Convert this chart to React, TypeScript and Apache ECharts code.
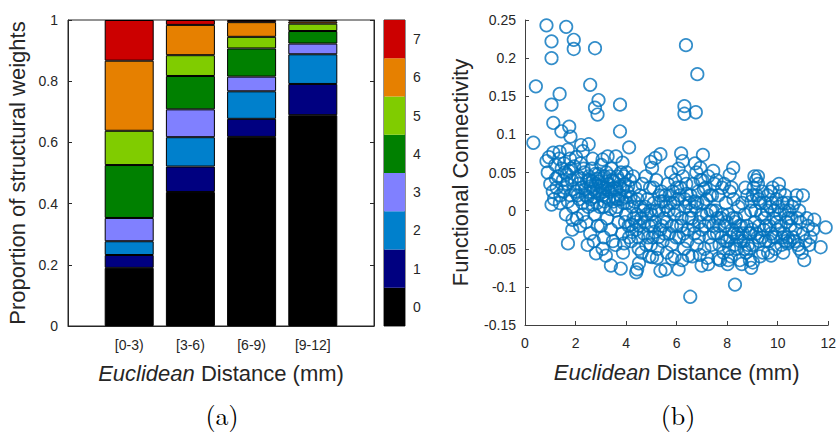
import React, { useEffect, useRef } from "react";
import * as echarts from "echarts";

// ---- Panel (a): stacked proportions per distance bin ----
const bins = ["[0-3)", "[3-6)", "[6-9)", "[9-12]"];
const levels = ["0", "1", "2", "3", "4", "5", "6", "7"];
const levelColors = ["#000000", "#000080", "#0080cc", "#8080ff", "#008000", "#80cc00", "#e68000", "#cc0000"];
const w0_3 = [0.19, 0.042, 0.045, 0.076, 0.173, 0.112, 0.229, 0.133];
const w3_6 = [0.438, 0.083, 0.096, 0.091, 0.109, 0.068, 0.099, 0.016];
const w6_9 = [0.618, 0.059, 0.09, 0.048, 0.092, 0.038, 0.048, 0.007];
const w9_12 = [0.689, 0.102, 0.097, 0.035, 0.041, 0.024, 0.007, 0.005];

// ---- Panel (b): functional connectivity vs distance ----
const outliers: number[][] = [
  [0.85, 0.243], [1.63, 0.241], [1.05, 0.222], [1.05, 0.2], [1.93, 0.224], [1.93, 0.212], [2.77, 0.213],
  [6.37, 0.217], [6.82, 0.179], [0.43, 0.163], [2.58, 0.165], [1.37, 0.153], [1.05, 0.139], [2.91, 0.145],
  [2.77, 0.135], [2.87, 0.126], [3.76, 0.139], [6.31, 0.137], [6.31, 0.127], [6.76, 0.129], [1.12, 0.115],
  [1.75, 0.11], [1.44, 0.104], [1.8, 0.097], [3.76, 0.104], [0.33, 0.089], [4.12, 0.083], [2.22, 0.086],
  [2.52, 0.087], [2.29, 0.078], [0.85, 0.065], [1.12, 0.076], [1.37, 0.077], [1.7, 0.08], [6.18, 0.075],
  [7.04, 0.073], [6.24, 0.065], [6.73, 0.062], [6.94, 0.056], [7.45, 0.052], [8.24, 0.056], [5.36, 0.074],
  [5.16, 0.069], [4.97, 0.064], [5.03, 0.056], [3.27, 0.071], [3.6, 0.071], [3.07, 0.067], [3.86, 0.063],
  [2.68, 0.068], [9.22, 0.045], [8.1, 0.047],
  [1.87, -0.025], [1.7, -0.043], [2.48, -0.045], [3.07, -0.05], [3.4, -0.072], [3.79, -0.076], [4.44, -0.077],
  [4.4, -0.081], [5.36, -0.079], [5.56, -0.077], [6.08, -0.077], [6.54, -0.113], [8.31, -0.097], [11.05, -0.065],
  [11.9, -0.022], [11.7, -0.048], [10.85, -0.05], [11.0, 0.02], [11.45, -0.012], [8.95, -0.075], [9.02, -0.068],
  [6.99, -0.072], [7.25, -0.07], [7.65, -0.063], [8.04, -0.065], [9.74, -0.059], [10.39, -0.043], [5.03, -0.061],
  [4.51, -0.069], [5.82, -0.063], [6.47, -0.059], [2.81, -0.056], [3.2, -0.059], [3.92, -0.043],
];
const core: number[][] = [
  [0.9, 0.05], [1.0, 0.035], [1.1, 0.025], [1.2, 0.06], [1.3, 0.045], [1.4, 0.02], [1.45, 0.055], [1.15, 0.015],
  [0.95, 0.07], [1.35, 0.068], [1.25, 0.03], [1.5, 0.04],
  [1.55, 0.062], [1.6, 0.03], [1.65, 0.048], [1.7, 0.012], [1.75, 0.052], [1.8, 0.02], [1.85, 0.04], [1.9, 0.005],
  [1.95, 0.058], [2.0, 0.025], [2.05, -0.01], [2.1, 0.045], [2.15, 0.015], [2.2, 0.062], [2.25, 0.03], [2.3, -0.005],
  [2.35, 0.05], [2.4, 0.02], [2.45, 0.038], [2.5, 0.005], [1.62, -0.005], [1.78, 0.068], [2.02, 0.07], [2.18, -0.02],
  [2.28, 0.01], [2.42, -0.015], [1.88, -0.012], [2.12, 0.035],
  [2.55, 0.04], [2.6, 0.015], [2.65, 0.055], [2.7, 0.028], [2.75, -0.005], [2.8, 0.035], [2.85, 0.01], [2.9, 0.048],
  [2.95, 0.022], [3.0, -0.02], [3.05, 0.03], [3.1, 0.005], [3.15, 0.045], [3.2, 0.018], [3.25, -0.01], [3.3, 0.035],
  [3.35, 0.025], [3.4, -0.025], [3.45, 0.04], [3.5, 0.012], [2.58, -0.03], [2.72, -0.04], [2.88, -0.02], [3.02, 0.06],
  [3.12, -0.035], [3.22, 0.05], [3.38, 0.002], [3.48, -0.04], [2.62, 0.032], [2.92, 0.038], [3.08, 0.02], [3.28, 0.028],
  [2.78, 0.048], [3.18, 0.03], [3.42, 0.055], [2.68, 0.008],
  [3.55, 0.03], [3.6, 0.0], [3.65, 0.045], [3.7, -0.015], [3.75, 0.02], [3.8, 0.05], [3.85, -0.03], [3.9, 0.01],
  [3.95, 0.035], [4.0, -0.005], [4.05, 0.025], [4.1, -0.02], [4.15, 0.04], [4.2, -0.04], [4.25, 0.005], [4.3, -0.01],
  [4.35, 0.03], [4.4, -0.025], [4.45, 0.015], [4.5, -0.05], [3.58, -0.045], [3.72, 0.04], [3.88, -0.055], [4.02, 0.05],
  [4.12, -0.035], [4.28, 0.045], [4.42, -0.005], [3.68, 0.015], [3.98, 0.018], [4.22, -0.018],
  [4.55, 0.02], [4.6, -0.01], [4.65, 0.035], [4.7, -0.03], [4.75, 0.005], [4.8, -0.045], [4.85, 0.015], [4.9, -0.02],
  [4.95, 0.03], [5.0, -0.005], [5.05, -0.035], [5.1, 0.01], [5.15, -0.015], [5.2, 0.04], [5.25, -0.05], [5.3, 0.0],
  [5.35, -0.025], [5.4, 0.025], [5.45, -0.04], [5.5, -0.01], [4.62, -0.055], [4.78, 0.045], [4.92, -0.06], [5.08, 0.03],
  [5.22, -0.062], [5.38, 0.012], [4.68, 0.0], [5.12, -0.028],
  [5.55, 0.02], [5.6, -0.015], [5.65, 0.035], [5.7, -0.03], [5.75, 0.01], [5.8, -0.045], [5.85, 0.025], [5.9, -0.005],
  [5.95, 0.04], [6.0, -0.02], [6.05, 0.015], [6.1, -0.035], [6.15, 0.03], [6.2, -0.01], [6.25, 0.045], [6.3, -0.05],
  [6.35, 0.005], [6.4, 0.022], [6.45, -0.025], [6.5, 0.01], [5.62, -0.055], [5.78, 0.05], [5.92, -0.06], [6.08, 0.055],
  [6.22, -0.065], [6.38, 0.035], [5.68, 0.0], [6.02, 0.03], [6.28, -0.03],
  [6.55, 0.02], [6.6, -0.01], [6.65, 0.035], [6.7, -0.03], [6.75, 0.005], [6.8, -0.045], [6.85, 0.025], [6.9, -0.015],
  [6.95, 0.04], [7.0, -0.025], [7.05, 0.01], [7.1, -0.05], [7.15, 0.03], [7.2, -0.005], [7.25, 0.045], [7.3, -0.035],
  [7.35, 0.0], [7.4, 0.02], [7.45, -0.02], [7.5, 0.035], [6.62, -0.06], [6.78, 0.05], [6.92, -0.058], [7.08, 0.028],
  [7.22, -0.062], [7.38, -0.045], [6.72, 0.012], [7.02, 0.04],
  [7.55, 0.0], [7.6, -0.03], [7.65, 0.02], [7.7, -0.045], [7.75, -0.01], [7.8, 0.03], [7.85, -0.055], [7.9, -0.02],
  [7.95, 0.01], [8.0, -0.04], [8.05, -0.005], [8.1, 0.025], [8.15, -0.06], [8.2, -0.025], [8.25, 0.015], [8.3, -0.045],
  [8.35, -0.01], [8.4, -0.035], [8.45, 0.005], [8.5, -0.065], [7.58, 0.04], [7.72, -0.065], [7.88, 0.035], [8.02, -0.07],
  [8.18, 0.03], [8.32, -0.015], [7.68, -0.02], [8.08, -0.05], [8.42, -0.03],
  [8.55, -0.02], [8.6, 0.01], [8.65, -0.04], [8.7, -0.005], [8.75, -0.055], [8.8, 0.02], [8.85, -0.03], [8.9, -0.065],
  [8.95, 0.0], [9.0, -0.045], [9.05, 0.03], [9.1, -0.015], [9.15, 0.04], [9.2, -0.035], [9.25, 0.015], [9.3, -0.06],
  [9.35, -0.005], [9.4, 0.025], [9.45, -0.025], [9.5, 0.01], [8.58, -0.07], [8.72, 0.03], [8.88, -0.05], [9.08, 0.045],
  [9.22, 0.035], [9.18, 0.02], [8.98, -0.025], [9.28, -0.04], [9.42, -0.055],
  [9.55, -0.02], [9.6, 0.02], [9.65, -0.04], [9.7, 0.005], [9.75, -0.03], [9.8, 0.03], [9.85, -0.01], [9.9, -0.05],
  [9.95, 0.015], [10.0, -0.025], [10.05, 0.035], [10.1, -0.005], [10.15, -0.045], [10.2, 0.01], [10.25, -0.03],
  [10.3, 0.02], [10.35, -0.015], [10.4, -0.035], [10.45, 0.0], [10.5, -0.02], [9.62, -0.055], [9.78, 0.01],
  [9.92, -0.035], [10.08, 0.025], [10.22, -0.055], [10.38, 0.01],
  [10.55, -0.01], [10.6, -0.035], [10.65, 0.01], [10.7, -0.025], [10.8, -0.045], [10.85, 0.0], [10.9, -0.015],
  [11.0, -0.03], [11.1, -0.04], [11.2, -0.02], [11.3, -0.035], [11.4, -0.025], [10.75, 0.02], [10.95, -0.055],
  [11.15, -0.01], [11.25, -0.045],
];
const coreExtra: number[][] = [
  [1.05, 0.008], [1.22, 0.042], [1.38, 0.01], [1.52, 0.025], [1.68, 0.035], [1.82, 0.055], [1.92, 0.028], [1.58, 0.05],
  [2.08, 0.02], [2.22, 0.042], [2.32, 0.055], [2.38, 0.028], [2.48, 0.018], [2.52, 0.045], [2.58, 0.025], [2.66, 0.038],
  [2.74, 0.018], [2.82, 0.025], [2.86, 0.042], [2.96, 0.005], [2.98, 0.032],
  [3.04, 0.042], [3.1, 0.025], [3.14, 0.012], [3.24, 0.038], [3.32, 0.015], [3.36, 0.045], [3.44, 0.028], [3.52, 0.038],
  [3.56, 0.018], [3.62, 0.028], [3.66, 0.005], [3.76, 0.032], [3.82, 0.015], [3.86, 0.028], [3.92, 0.045], [3.96, -0.015],
  [4.04, 0.01], [4.08, 0.032], [4.18, 0.018], [4.24, -0.028], [4.32, 0.012], [4.38, -0.015], [4.48, -0.035], [4.52, -0.02],
  [4.58, 0.005], [4.72, -0.015], [4.82, -0.005], [4.88, -0.035], [4.96, 0.0], [4.98, -0.045],
  [5.02, -0.02], [5.18, 0.0], [5.28, -0.035], [5.32, 0.02], [5.42, -0.02], [5.48, 0.012], [5.52, -0.03], [5.58, 0.005],
  [5.72, 0.02], [5.82, -0.02], [5.88, 0.01], [5.98, -0.035],
  [6.04, 0.0], [6.12, 0.02], [6.18, -0.02], [6.32, 0.015], [6.42, -0.04], [6.48, -0.01], [6.58, 0.0], [6.68, -0.02],
  [6.82, 0.01], [6.88, -0.035], [6.98, -0.005],
  [7.12, -0.02], [7.18, 0.015], [7.28, -0.015], [7.32, 0.02], [7.42, 0.0], [7.48, -0.03], [7.62, -0.01], [7.78, -0.035],
  [7.82, -0.005], [7.92, -0.04], [7.98, -0.015],
  [8.12, -0.035], [8.22, -0.01], [8.28, -0.03], [8.38, -0.05], [8.48, -0.02], [8.52, -0.04], [8.62, -0.03], [8.68, -0.05],
  [8.78, -0.02], [8.82, -0.045], [8.92, -0.03], [8.96, 0.012],
  [9.02, 0.02], [9.12, 0.0], [9.16, -0.03], [9.26, -0.02], [9.32, 0.01], [9.38, -0.035], [9.48, -0.01], [9.52, -0.04],
  [9.58, 0.0], [9.68, -0.02], [9.72, 0.025], [9.82, -0.035], [9.88, 0.0], [9.96, -0.015],
  [10.02, 0.005], [10.12, -0.02], [10.18, -0.035], [10.28, 0.0], [10.32, -0.04], [10.42, -0.01], [10.48, -0.04],
  [10.58, 0.005], [10.68, -0.04], [10.78, -0.01],
];

const FONT = "'Liberation Sans', Arial, Helvetica, sans-serif";
const TXT = "#262626";
const SERIF = "26px 'Latin Modern Roman', 'Liberation Serif', 'DejaVu Serif', serif";

export default function App() {
  const ref = useRef<HTMLDivElement>(null);
  useEffect(() => {
    document.body.style.margin = "0";
    if (!ref.current) return;
    const chart = echarts.init(ref.current, null, { renderer: "svg" });
    const binRows = [w0_3, w3_6, w6_9, w9_12];
    const catData = ["", ...bins, ""];
    const barSeries = levels.map((lv, li) => ({
      type: "bar",
      name: lv,
      stack: "w",
      xAxisIndex: 0,
      yAxisIndex: 0,
      barWidth: 49,
      data: [null, ...binRows.map((r) => r[li]), null],
      itemStyle: { color: levelColors[li], borderColor: "#000", borderWidth: 1 },
      silent: true,
    }));
    const titleRich = {
      i: { fontStyle: "italic", fontSize: 22, fontFamily: FONT, color: TXT },
    };
    chart.setOption({
      animation: false,
      textStyle: { fontFamily: FONT },
      grid: [
        { left: 68, top: 20, width: 306, height: 306, show: true, borderColor: "#262626", borderWidth: 1, backgroundColor: "transparent" },
        { left: 384, top: 20, width: 21, height: 306, show: true, borderColor: "#262626", borderWidth: 1, backgroundColor: "transparent" },
        { left: 525, top: 20, width: 306, height: 305 },
      ],
      xAxis: [
        {
          type: "category", gridIndex: 0, data: catData, boundaryGap: false,
          axisLine: { lineStyle: { color: "#262626" } }, axisTick: { show: false },
          axisLabel: { color: TXT, fontSize: 14, fontFamily: FONT, margin: 12, interval: 0 },
          name: "{i|Euclidean} Distance (mm)", nameLocation: "middle", nameGap: 36,
          nameTextStyle: { color: TXT, fontSize: 22, fontFamily: FONT, rich: titleRich },
        },
        { type: "value", gridIndex: 1, min: 0, max: 1, show: false },
        {
          type: "value", gridIndex: 2, min: 0, max: 12, interval: 2,
          axisLine: { onZero: false, lineStyle: { color: "#404040" } },
          axisTick: { inside: true, length: 4, lineStyle: { color: "#404040" } },
          splitLine: { show: false },
          axisLabel: { color: TXT, fontSize: 14, fontFamily: FONT, margin: 11 },
          name: "{i|Euclidean} Distance (mm)", nameLocation: "middle", nameGap: 36,
          nameTextStyle: { color: TXT, fontSize: 22, fontFamily: FONT, rich: titleRich },
        },
      ],
      yAxis: [
        {
          type: "value", gridIndex: 0, min: 0, max: 1, interval: 0.2,
          axisLine: { show: true, lineStyle: { color: "#262626" } },
          axisTick: { show: true, inside: true, length: 4, lineStyle: { color: "#262626" } },
          splitLine: { show: false },
          axisLabel: { color: TXT, fontSize: 14, fontFamily: FONT, margin: 10, formatter: (v: number) => String(+v.toFixed(1)) },
          name: "Proportion of structural weights", nameLocation: "middle", nameGap: 40,
          nameTextStyle: { color: TXT, fontSize: 22, fontFamily: FONT },
        },
        {
          type: "value", gridIndex: 0, min: 0, max: 1, interval: 0.2, position: "right",
          axisLine: { show: true, lineStyle: { color: "#262626" } },
          axisTick: { show: true, inside: true, length: 4, lineStyle: { color: "#262626" } },
          splitLine: { show: false }, axisLabel: { show: false },
        },
        {
          type: "category", gridIndex: 1, data: levels, position: "right",
          axisLine: { show: false }, axisTick: { show: false },
          axisLabel: { color: TXT, fontSize: 14, fontFamily: FONT, margin: 8 },
        },
        {
          type: "value", gridIndex: 2, min: -0.15, max: 0.25, interval: 0.05,
          axisLine: { show: true, onZero: false, lineStyle: { color: "#404040" } },
          axisTick: { show: true, inside: true, length: 4, lineStyle: { color: "#404040" } },
          splitLine: { show: false },
          axisLabel: { color: TXT, fontSize: 14, fontFamily: FONT, margin: 9, formatter: (v: number) => String(+v.toFixed(2)) },
          name: "Functional Connectivity", nameLocation: "middle", nameGap: 54,
          nameTextStyle: { color: TXT, fontSize: 22, fontFamily: FONT },
        },
      ],
      series: [
        ...barSeries,
        {
          type: "bar", xAxisIndex: 1, yAxisIndex: 2, barWidth: "100%", silent: true,
          data: levels.map((_, i) => ({ value: 1, itemStyle: { color: levelColors[i] } })),
        },
        {
          type: "scatter", xAxisIndex: 2, yAxisIndex: 3, symbol: "circle", symbolSize: 12.5, silent: true,
          itemStyle: { color: "rgba(0,0,0,0)", borderColor: "#0072BD", borderWidth: 1.7 },
          data: [...core, ...coreExtra, ...outliers],
        },
      ],
      graphic: [
        { type: "text", x: 222, y: 414, style: { text: "(a)", font: SERIF, fill: "#000", align: "center", verticalAlign: "middle" } },
        { type: "text", x: 678, y: 414, style: { text: "(b)", font: SERIF, fill: "#000", align: "center", verticalAlign: "middle" } },
      ],
    });
    return () => chart.dispose();
  }, []);
  return <div ref={ref} style={{ width: 839, height: 440 }} />;
}
